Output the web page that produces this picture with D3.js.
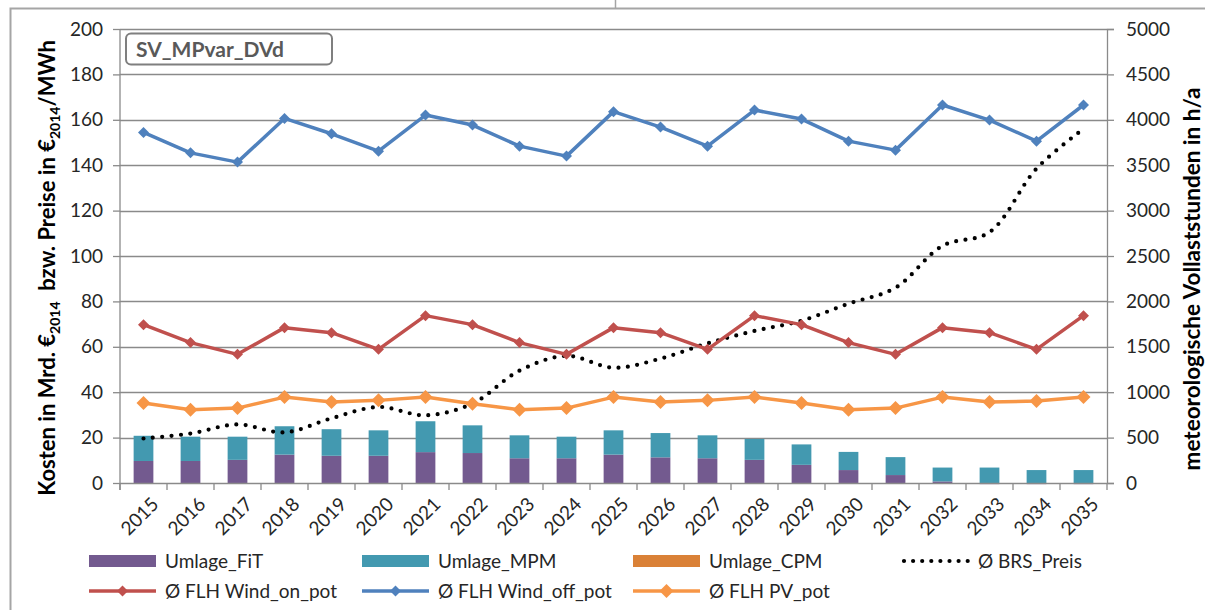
<!DOCTYPE html>
<html>
<head>
<meta charset="utf-8">
<title>SV_MPvar_DVd</title>
<style>
  body { margin: 0; background: #fff; }
  svg { display: block; font-family: Lato, "Open Sans", sans-serif; }
  .tick text { fill: #262626; }
</style>
</head>
<body>
<script src="https://cdn.jsdelivr.net/npm/d3@7"></script>
<script>
// Daten
var years = ["2015","2016","2017","2018","2019","2020","2021","2022","2023","2024","2025",
             "2026","2027","2028","2029","2030","2031","2032","2033","2034","2035"];
// Mrd. €2014 (linke Achse)
var umlageFiT = [9.7, 9.7, 10.2, 12.5, 12.0, 12.0, 13.6, 13.2, 10.9, 10.9, 12.5,
                 11.3, 10.9, 10.2, 8.0, 5.7, 3.5, 0.7, -0.5, -0.5, -0.5];
var umlageMPM = [11.1, 10.7, 10.2, 12.5, 11.7, 11.2, 13.6, 12.2, 10.1, 9.5, 10.7,
                 10.7, 10.1, 9.2, 9.0, 8.0, 7.9, 6.1, 6.8, 5.7, 5.7];
var umlageCPM = [0, 0, 0, 0, 0, 0, 0, 0, 0, 0, 0, 0, 0, 0, 0, 0, 0, 0, 0, 0, 0];
// €2014/MWh (linke Achse)
var brsPreis = [19.6, 21.8, 25.8, 22.3, 28.5, 33.5, 29.8, 35, 49.5, 56, 50.8,
                54.8, 61.5, 67, 71.5, 79, 86, 104.5, 110.5, 138.5, 156];
// h/a (rechte Achse)
var flhWindOn  = [1744, 1546, 1417, 1711, 1656, 1472, 1843, 1744, 1546, 1417, 1711,
                  1656, 1472, 1843, 1744, 1546, 1417, 1711, 1656, 1472, 1843];
var flhWindOff = [3861, 3636, 3534, 4015, 3846, 3655, 4052, 3942, 3710, 3600, 4090,
                  3920, 3710, 4107, 4008, 3765, 3666, 4163, 3997, 3765, 4163];
var flhPV      = [880, 807, 825, 946, 891, 910, 946, 873, 807, 825, 946,
                  891, 910, 946, 880, 807, 825, 946, 891, 902, 946];
var leftTicks  = [0, 20, 40, 60, 80, 100, 120, 140, 160, 180, 200];
var rightTicks = [0, 500, 1000, 1500, 2000, 2500, 3000, 3500, 4000, 4500, 5000];

var W = 1205, H = 610;
var x0 = 120, x1 = 1107, yTop = 29, yBot = 483;

var svg = d3.select("body").append("svg").attr("width", W).attr("height", H);

// Rahmen
svg.append("path").attr("d", "M10.5,610 V8.5 H1205").attr("fill", "none")
   .attr("stroke", "#a5a5a5").attr("stroke-width", 2);
svg.append("line").attr("x1", 615.5).attr("x2", 615.5).attr("y1", 0).attr("y2", 8)
   .attr("stroke", "#a5a5a5").attr("stroke-width", 1.5);

var x = d3.scaleBand().domain(years).range([x0, x1]).padding(0);
var yL = d3.scaleLinear().domain([0, 200]).range([yBot, yTop]);
var yR = d3.scaleLinear().domain([0, 5000]).range([yBot, yTop]);

var gridColor = "#8a8a8a";

// Gitternetz
svg.append("g").selectAll("line").data(leftTicks.slice(1)).join("line")
  .attr("x1", x0).attr("x2", x1)
  .attr("y1", d => Math.round(yL(d)) + 0.5).attr("y2", d => Math.round(yL(d)) + 0.5)
  .attr("stroke", gridColor).attr("stroke-width", 1.3);

// Balken (gestapelt)
var table = years.map((y, i) => ({ year: y, FiT: umlageFiT[i], MPM: umlageMPM[i], CPM: umlageCPM[i] }));
var stack = d3.stack().keys(["FiT", "MPM", "CPM"]).offset(d3.stackOffsetDiverging);
var barColors = { FiT: "#735a8f", MPM: "#4399b0", CPM: "#da8137" };
var bw = x.bandwidth() * 0.42;
svg.append("g").selectAll("g").data(stack(table)).join("g")
  .attr("fill", d => barColors[d.key])
  .selectAll("rect").data(d => d).join("rect")
  .attr("x", d => x(d.data.year) + (x.bandwidth() - bw) / 2)
  .attr("width", bw)
  .attr("y", d => yL(Math.max(d[0], d[1])))
  .attr("height", d => Math.abs(yL(d[0]) - yL(d[1])));

// Achsen
var axL = svg.append("g").attr("transform", "translate(" + x0 + ",0)")
  .call(d3.axisLeft(yL).tickValues(leftTicks).tickSize(7).tickPadding(10));
var axR = svg.append("g").attr("transform", "translate(" + x1 + ",0)")
  .call(d3.axisRight(yR).tickValues(rightTicks).tickFormat(d3.format("d")).tickSize(7).tickPadding(12));
[axL, axR].forEach(a => {
  a.select(".domain").attr("stroke", gridColor).attr("stroke-width", 1.3);
  a.selectAll(".tick line").attr("stroke", gridColor).attr("stroke-width", 1.3);
  a.selectAll(".tick text").attr("font-size", 19).attr("font-family", "Lato").attr("fill", "#262626");
});
axL.select(".domain").attr("d", "M0," + yTop + "V" + (yBot + 7));

// x-Achse
var gx = svg.append("g");
gx.append("line").attr("x1", x0).attr("x2", x1).attr("y1", yBot + 0.5).attr("y2", yBot + 0.5)
  .attr("stroke", gridColor).attr("stroke-width", 1.3);
gx.selectAll(".xt").data(years.concat(["end"])).join("line")
  .attr("x1", (d, i) => x0 + i * x.step()).attr("x2", (d, i) => x0 + i * x.step())
  .attr("y1", yBot).attr("y2", yBot + 7)
  .attr("stroke", gridColor).attr("stroke-width", 1.3);
gx.selectAll("text").data(years).join("text")
  .attr("transform", d => "translate(" + (x(d) + x.bandwidth() / 2 + 7) + "," + (yBot + 13) + ") rotate(-45)")
  .attr("text-anchor", "end").attr("dy", "0.7em")
  .attr("font-size", 19).attr("fill", "#262626")
  .text(d => d);

// BRS-Preis (gepunktet)
var cx = d => x(d) + x.bandwidth() / 2;
svg.append("path").datum(brsPreis)
  .attr("fill", "none").attr("stroke", "#000").attr("stroke-width", 4.2)
  .attr("stroke-linecap", "round").attr("stroke-dasharray", "0 9.4")
  .attr("d", d3.line().x((d, i) => cx(years[i])).y(d => yL(d)).curve(d3.curveCatmullRom.alpha(0.5)));

// Linien mit Rautenmarkern
function diamond(s) { return "M0," + (-s) + "L" + s + ",0L0," + s + "L" + (-s) + ",0Z"; }
var lineSeries = [
  { name: "Ø FLH Wind_on_pot",  values: flhWindOn,  color: "#c0504d", m: 5.5 },
  { name: "Ø FLH Wind_off_pot", values: flhWindOff, color: "#4f81bd", m: 5.5 },
  { name: "Ø FLH PV_pot",       values: flhPV,      color: "#f79646", m: 7 }
];
lineSeries.forEach(s => {
  var g = svg.append("g");
  g.append("path").datum(s.values).attr("fill", "none")
    .attr("stroke", s.color).attr("stroke-width", 3.5).attr("stroke-linejoin", "round")
    .attr("d", d3.line().x((d, i) => cx(years[i])).y(d => yR(d)));
  g.selectAll("path.m").data(s.values).join("path").attr("class", "m")
    .attr("transform", (d, i) => "translate(" + cx(years[i]) + "," + yR(d) + ")")
    .attr("d", diamond(s.m)).attr("fill", s.color);
});

// Achsentitel
var tl = svg.append("text").attr("transform", "translate(55,268) rotate(-90)")
  .attr("text-anchor", "middle").attr("font-size", 22).attr("font-weight", "bold").attr("fill", "#000");
tl.append("tspan").text("Kosten in Mrd. €");
tl.append("tspan").attr("font-size", 14).attr("dy", 5).text("2014");
tl.append("tspan").attr("dy", -5).attr("xml:space", "preserve").text("  bzw. Preise in €");
tl.append("tspan").attr("font-size", 14).attr("dy", 5).text("2014");
tl.append("tspan").attr("dy", -5).text("/MWh");

svg.append("text").attr("transform", "translate(1200,279) rotate(-90)")
  .attr("text-anchor", "middle").attr("font-size", 22.5).attr("font-weight", "bold").attr("fill", "#000")
  .text("meteorologische Vollaststunden in h/a");

// Szenario-Box
svg.append("rect").attr("x", 126).attr("y", 33.5).attr("width", 206).attr("height", 31)
  .attr("rx", 5).attr("fill", "#fff").attr("stroke", "#7f7f7f").attr("stroke-width", 2);
svg.append("text").attr("x", 136).attr("y", 57).attr("font-size", 21).attr("font-weight", "bold")
  .attr("fill", "#595959").text("SV_MPvar_DVd");

// Legende
var legend = [
  { name: "Umlage_FiT", type: "rect", color: barColors.FiT, col: 0, row: 0 },
  { name: "Umlage_MPM", type: "rect", color: barColors.MPM, col: 1, row: 0 },
  { name: "Umlage_CPM", type: "rect", color: barColors.CPM, col: 2, row: 0 },
  { name: "Ø BRS_Preis", type: "dot", color: "#000", col: 3, row: 0 },
  { name: lineSeries[0].name, type: "line", color: lineSeries[0].color, m: lineSeries[0].m, col: 0, row: 1 },
  { name: lineSeries[1].name, type: "line", color: lineSeries[1].color, m: lineSeries[1].m, col: 1, row: 1 },
  { name: lineSeries[2].name, type: "line", color: lineSeries[2].color, m: lineSeries[2].m, col: 2, row: 1 }
];
var colX = [89, 362, 633, 902], rowY = [561, 591];
legend.forEach(l => {
  var g = svg.append("g").attr("transform", "translate(" + colX[l.col] + "," + rowY[l.row] + ")");
  if (l.type === "rect") {
    g.append("rect").attr("x", 0).attr("y", -6).attr("width", 67).attr("height", 12).attr("fill", l.color);
  } else if (l.type === "dot") {
    g.append("line").attr("x1", 2).attr("x2", 66).attr("y1", 0).attr("y2", 0)
      .attr("stroke", "#000").attr("stroke-width", 4.2).attr("stroke-linecap", "round").attr("stroke-dasharray", "0 9.1");
  } else {
    g.append("line").attr("x1", 0).attr("x2", 67).attr("y1", 0).attr("y2", 0)
      .attr("stroke", l.color).attr("stroke-width", 3.5);
    g.append("path").attr("transform", "translate(33.5,0)").attr("d", diamond(l.m)).attr("fill", l.color);
  }
  g.append("text").attr("x", 76).attr("y", 0).attr("dy", "0.35em")
    .attr("font-size", 19).attr("fill", "#262626").text(l.name);
});
</script>
</body>
</html>
